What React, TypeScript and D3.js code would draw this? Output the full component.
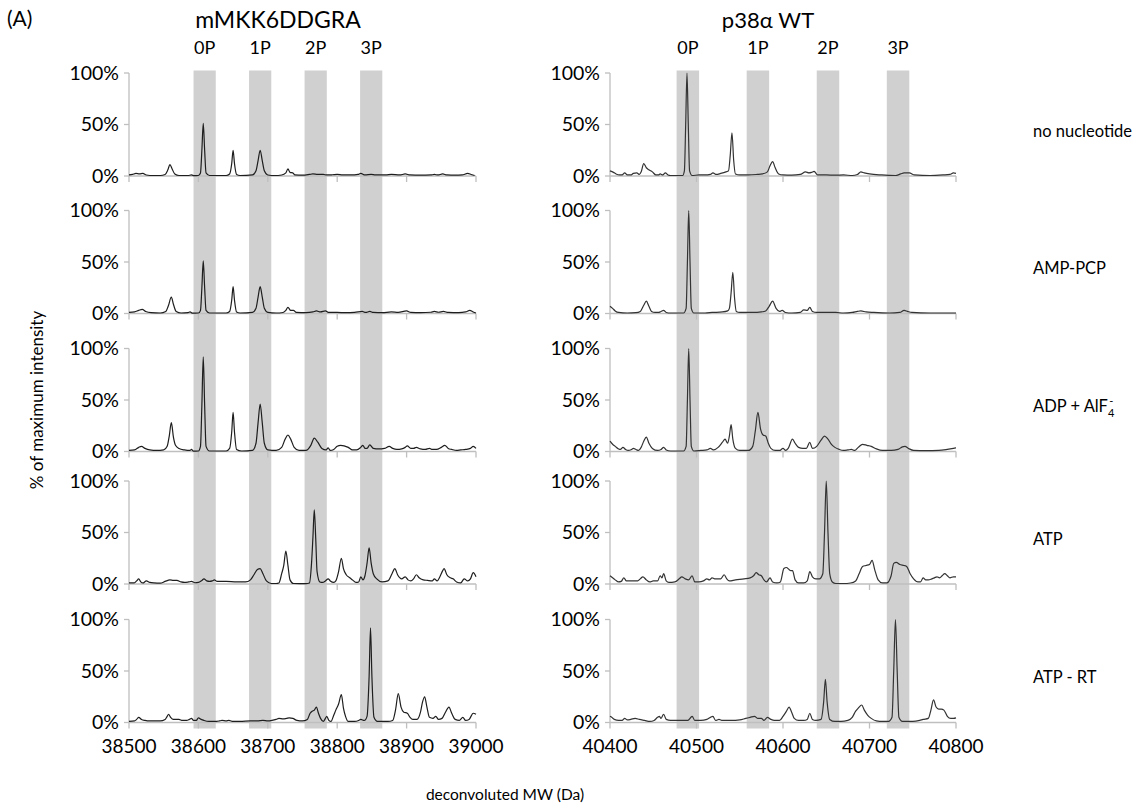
import React from "react";
import * as d3 from "d3";

type Pt = [number, number];

const rowLabels = ["no nucleotide", "AMP-PCP", "ADP + AlF", "ATP", "ATP - RT"];
const phosLabels = ["0P", "1P", "2P", "3P"];
const leftTicks = [38500, 38600, 38700, 38800, 38900, 39000];
const rightTicks = [40400, 40500, 40600, 40700, 40800];
const yTicks = [0, 50, 100];
const leftBands: Pt[] = [[38593, 38625], [38673, 38705], [38753, 38785], [38833, 38865]];
const rightBands: Pt[] = [[40477, 40503], [40558, 40584], [40639, 40665], [40720, 40746]];

const L1: Pt[] = [[38500,1],[38505,1.5],[38510,2.5],[38515,2],[38520,2.5],[38525,1],[38535,0.5],[38545,0.5],[38552,1.5],[38556,6],[38559,11],[38562,7],[38566,2],[38572,0.5],[38585,0.5],[38590,1],[38594,0.3],[38600,0.5],[38603,3],[38605,25],[38607,51],[38609,25],[38611,3],[38616,0.5],[38640,0.5],[38645,2],[38648,12],[38650,25],[38652,12],[38655,1.5],[38660,0.5],[38678,1],[38683,5],[38686,15],[38689,25],[38692,15],[38695,5],[38700,1],[38710,0.5],[38720,1],[38726,3],[38729,7],[38732,3.5],[38736,3],[38739,1],[38750,0.8],[38760,1.5],[38765,2],[38772,1.5],[38780,1.5],[38785,1],[38793,1.2],[38800,1.5],[38808,1],[38820,1],[38830,1.5],[38834,2.5],[38840,1],[38849,1.5],[38855,1],[38870,1],[38878,1.5],[38890,1],[38898,2],[38905,1],[38920,0.8],[38935,1],[38940,1.5],[38945,1],[38952,2],[38958,1],[38970,0.8],[38980,1],[38988,2.5],[38993,1.5],[38998,0.5]];
const L2: Pt[] = [[38500,1],[38508,1.5],[38514,3],[38519,4],[38524,2],[38532,0.8],[38545,0.5],[38553,2],[38557,8],[38561,16],[38564,9],[38568,2],[38575,0.5],[38585,0.8],[38588,1.5],[38591,0.3],[38600,0.5],[38603,3],[38605,25],[38607,51],[38609,25],[38611,3],[38616,0.5],[38640,0.5],[38645,2],[38648,13],[38650,26],[38652,13],[38655,1.5],[38660,0.5],[38678,1],[38683,5],[38686,16],[38689,26],[38692,16],[38695,5],[38700,1],[38712,0.5],[38722,1],[38726,3],[38729,6],[38733,3],[38737,3],[38741,1],[38755,0.8],[38765,1.5],[38770,2.5],[38776,1.5],[38783,2.5],[38788,1],[38800,1],[38812,0.8],[38825,1],[38836,2],[38841,1],[38847,2],[38852,1],[38865,0.8],[38878,1.5],[38888,1],[38900,2.5],[38906,1],[38920,0.8],[38935,1.2],[38940,2],[38946,1.2],[38953,2],[38960,1],[38975,0.8],[38985,1.5],[38991,3],[38996,1.5],[39000,0.5]];
const L3: Pt[] = [[38500,1],[38508,1.5],[38514,4],[38518,5],[38523,3],[38530,1.5],[38540,1],[38550,1.5],[38555,5],[38558,15],[38561,28],[38564,14],[38567,6],[38572,3],[38580,1.5],[38588,1],[38590,2],[38593,0.3],[38600,0.5],[38603,5],[38605,45],[38607,92],[38609,45],[38611,5],[38616,0.5],[38640,0.5],[38645,3],[38648,19],[38650,38],[38652,19],[38655,2],[38662,0.5],[38678,1],[38683,8],[38686,28],[38689,46],[38692,28],[38695,8],[38700,1.5],[38712,1],[38720,4],[38725,12],[38729,16],[38733,12],[38738,4],[38745,1],[38755,1],[38762,6],[38767,13],[38772,9],[38778,3],[38784,1.5],[38787,3.5],[38790,1],[38795,2],[38800,5],[38805,6],[38810,5.5],[38816,4],[38822,1.5],[38828,1.5],[38834,4],[38837,6],[38840,3],[38843,3],[38847,6.5],[38852,3],[38860,2.5],[38868,3],[38875,5],[38880,3],[38886,2],[38893,2.5],[38898,4],[38901,5.5],[38906,3],[38910,3],[38914,4],[38920,2.5],[38927,2],[38933,3],[38937,2],[38943,2],[38950,4],[38955,6],[38960,3],[38965,2],[38972,1],[38978,1.5],[38985,2],[38992,3],[38996,5],[39000,3]];
const L4: Pt[] = [[38500,1],[38507,1],[38511,3],[38514,5],[38517,2],[38520,1],[38525,3],[38530,1.5],[38536,1],[38545,0.8],[38552,2.5],[38559,4],[38564,3.5],[38569,3.5],[38575,2],[38580,1.5],[38586,2],[38590,2.5],[38595,1.2],[38600,1.5],[38605,3.5],[38608,5],[38612,3],[38616,2.5],[38620,3],[38623,4],[38627,2.5],[38640,2.5],[38655,2],[38668,2],[38675,4],[38680,9],[38685,14],[38689,15],[38693,10],[38698,3],[38705,0.5],[38712,0.5],[38716,1],[38720,10],[38723,18],[38726,32],[38729,18],[38732,4],[38737,0.5],[38755,0.3],[38760,1],[38763,20],[38765,45],[38767,72],[38769,45],[38771,12],[38775,2],[38779,1.5],[38783,3],[38787,5],[38790,3],[38795,1.5],[38798,3],[38802,12],[38806,25],[38809,15],[38813,9],[38818,6],[38822,4],[38827,1.5],[38831,2],[38834,7],[38837,4],[38840,8],[38843,20],[38846,35],[38849,20],[38852,10],[38857,5],[38865,2],[38873,3],[38879,10],[38883,15],[38887,9],[38893,5],[38898,7],[38902,4],[38906,3],[38910,5],[38914,9],[38918,6],[38924,4],[38930,3.5],[38937,3],[38940,5],[38944,3],[38948,7],[38952,13],[38954,15],[38958,9],[38963,6],[38967,5],[38972,2],[38978,1],[38983,5],[38988,3],[38992,5],[38996,11],[39000,7]];
const L5: Pt[] = [[38500,1],[38508,1.5],[38511,3],[38514,5],[38518,3],[38523,2],[38530,1.5],[38545,1.5],[38552,3],[38555,6],[38557,8],[38560,5],[38564,3],[38568,3],[38572,3],[38577,2],[38583,2],[38587,3],[38590,4],[38593,2],[38597,2],[38600,4.5],[38604,3],[38608,2],[38615,1],[38623,1],[38630,1.5],[38634,2],[38640,1.5],[38644,2],[38650,1],[38660,1],[38675,1.5],[38685,1.5],[38693,2],[38700,1.5],[38706,2],[38712,3],[38716,4],[38722,3.5],[38727,4],[38731,4.5],[38736,4],[38742,2],[38750,1.5],[38757,3],[38761,9],[38764,11],[38767,12],[38770,15],[38773,9],[38776,4],[38780,1],[38783,4],[38785,6],[38788,2],[38791,1],[38795,7],[38798,12],[38802,18],[38806,27],[38809,14],[38812,6],[38816,1],[38825,1],[38831,2],[38834,3],[38839,2],[38843,6],[38846,45],[38848,92],[38850,45],[38853,5],[38858,1],[38873,1],[38880,2],[38884,12],[38888,28],[38892,15],[38896,10],[38901,9],[38905,5],[38909,3],[38915,3],[38920,10],[38923,20],[38926,25],[38929,16],[38933,5],[38938,4],[38942,6],[38946,3],[38951,4],[38956,10],[38961,15],[38965,9],[38970,3],[38976,2],[38981,5],[38985,2],[38990,3],[38996,9],[39000,8]];

const R1: Pt[] = [[40400,5],[40404,3.5],[40407,2],[40411,1],[40414,1],[40417,3],[40420,1],[40424,1],[40427,2.5],[40431,3],[40434,1.5],[40436,4],[40439,12],[40442,8],[40445,6],[40449,4],[40453,1],[40456,1],[40458,2],[40461,1],[40464,3],[40467,1],[40470,0.5],[40484,0.5],[40486,5],[40487.5,50],[40489,100],[40490.5,50],[40492,5],[40495,0.5],[40503,1],[40510,1],[40516,1.5],[40519,3],[40523,1.5],[40528,2.5],[40534,4],[40537,5],[40539,20],[40541,42],[40543,15],[40545,2],[40550,1],[40560,1],[40570,1.5],[40576,2],[40582,4],[40585,10],[40588,14],[40591,8],[40595,2],[40600,1],[40610,0.8],[40620,1.5],[40626,4],[40630,3],[40633,3.5],[40636,4.5],[40640,1],[40650,1],[40660,0.8],[40670,1],[40680,0.5],[40686,1.5],[40690,4],[40694,3],[40700,2],[40714,1],[40730,0.5],[40736,2],[40740,3],[40746,3],[40752,1],[40770,0.5],[40785,1],[40793,1.5],[40797,3],[40800,2.5]];
const R2: Pt[] = [[40400,7],[40403,5],[40406,2.5],[40410,1],[40420,0.5],[40430,0.8],[40435,2],[40439,8],[40442,12],[40445,7],[40448,2],[40452,1],[40456,1],[40459,2],[40462,3],[40465,1],[40470,0.5],[40485,0.5],[40488,5],[40489.5,50],[40491,100],[40492.5,50],[40494,5],[40497,0.5],[40510,0.5],[40518,1],[40530,1.5],[40536,2.5],[40538,5],[40540,20],[40542,40],[40544,15],[40546,2],[40550,1],[40565,1],[40575,1.5],[40580,2.5],[40584,7],[40588,12],[40592,5],[40596,2],[40599,3],[40603,1],[40610,0.5],[40620,1],[40624,3.5],[40628,3],[40631,6],[40634,2],[40639,1],[40650,1],[40661,1],[40670,0.5],[40680,1],[40686,2],[40690,2.5],[40696,1.5],[40705,1],[40723,0.5],[40735,1],[40740,3],[40744,2],[40749,1],[40770,0.5],[40797,0.5],[40800,0.5]];
const R3: Pt[] = [[40400,10],[40403,7],[40406,5],[40410,2.5],[40412,2],[40415,4],[40418,2],[40421,1],[40425,2],[40427,3],[40430,2],[40433,1],[40436,4],[40439,10],[40442,14],[40445,8],[40449,3],[40455,1],[40459,2],[40462,4],[40465,1.5],[40470,0.5],[40485,0.5],[40488,5],[40489.5,50],[40491,100],[40492.5,50],[40494,5],[40497,0.5],[40505,1],[40512,1.5],[40516,3],[40520,1.5],[40525,4],[40530,9],[40533,12],[40536,8],[40538,15],[40540,26],[40542,12],[40545,3],[40550,1],[40560,1],[40565,5],[40568,20],[40571,38],[40574,22],[40577,16],[40580,15],[40583,8],[40586,3],[40591,1],[40596,1],[40600,3],[40603,1],[40606,3],[40611,12],[40614,8],[40618,4],[40623,3],[40627,3],[40631,9],[40634,3],[40639,5],[40644,11],[40648,15],[40652,12],[40656,7],[40660,4],[40665,2],[40670,1],[40675,1.5],[40679,2],[40683,1],[40687,4],[40692,7],[40697,6],[40702,5],[40708,2.5],[40715,1],[40725,1],[40733,2],[40738,4.5],[40741,5],[40745,3],[40751,1],[40765,0.8],[40780,1],[40790,2],[40797,3],[40800,3.5]];
const R4: Pt[] = [[40400,8],[40403,6],[40406,4],[40410,2],[40413,2.5],[40416,6],[40419,3],[40423,3],[40428,3],[40432,3],[40435,5],[40438,7],[40442,4],[40446,2],[40450,3],[40455,3],[40458,8],[40460,6],[40462,10],[40465,3],[40468,1.5],[40475,2],[40480,5],[40483,7],[40487,5],[40491,4],[40495,8],[40498,2],[40503,2],[40508,3],[40512,5],[40515,4],[40518,6],[40521,5],[40524,5],[40528,5],[40532,9],[40535,5],[40538,3],[40545,4],[40555,5],[40562,6],[40566,8],[40569,11],[40572,9],[40575,8],[40578,4],[40581,2],[40585,6],[40588,2],[40593,1],[40597,2],[40601,15],[40604,16],[40607,14],[40609,13],[40611,13],[40614,4],[40618,1],[40624,1],[40628,3],[40631,12],[40634,7],[40638,5],[40642,5],[40646,10],[40648,50],[40650,100],[40652,50],[40654,10],[40657,2],[40661,0.5],[40670,0.5],[40678,1],[40684,3],[40688,10],[40692,17],[40696,18],[40700,19],[40703,23],[40706,14],[40710,4],[40715,1],[40720,1],[40725,8],[40728,20],[40731,21],[40735,19],[40740,18],[40743,17],[40747,10],[40751,5],[40756,2],[40759,2],[40762,6],[40765,4],[40768,4],[40772,5],[40775,6],[40778,7],[40781,6],[40784,8],[40787,10],[40790,8],[40793,6],[40797,7],[40800,7]];
const R5: Pt[] = [[40400,6],[40402,5],[40405,3],[40410,2],[40414,2],[40417,4],[40420,2.5],[40424,3],[40429,4],[40434,3],[40440,2],[40446,1],[40451,2],[40455,5],[40457,6],[40459,4],[40462,8],[40465,3],[40470,2],[40480,2],[40490,2],[40495,6],[40498,2],[40505,2],[40512,3],[40516,5],[40519,6],[40522,2],[40526,3],[40530,2],[40540,2],[40550,2.5],[40557,4],[40562,5],[40567,6],[40571,4],[40575,4],[40578,2],[40582,5],[40586,3],[40590,2],[40596,2],[40600,6],[40604,11],[40607,15],[40610,10],[40613,4],[40618,2],[40624,2],[40628,3],[40631,9],[40634,3],[40638,2],[40644,3],[40647,20],[40649,42],[40651,20],[40654,3],[40660,1],[40667,1],[40675,2],[40680,5],[40684,11],[40687,14],[40691,17],[40694,12],[40698,7],[40702,4],[40708,1.5],[40715,1],[40722,1],[40726,5],[40728,50],[40730,100],[40732,50],[40734,5],[40738,1],[40750,1],[40758,2],[40762,3],[40768,4],[40771,12],[40774,22],[40777,15],[40780,13],[40783,13],[40786,12],[40790,6],[40794,4],[40797,4],[40800,4.5]];

const leftSeries = [L1, L2, L3, L4, L5];
const rightSeries = [R1, R2, R3, R4, R5];

const W = 1134;
const H = 807;
const FONT = "Lato, 'Open Sans', sans-serif";
const baselines = [176, 313.5, 451.5, 584, 722.5];
const plotH = 103;
const bandTop = 70.5;
const bandBottom = 728.5;

const xLeft = d3.scaleLinear().domain([38500, 39000]).range([129, 476]);
const xRight = d3.scaleLinear().domain([40400, 40800]).range([610, 956]);

function Panel({ x, series, base, stroke }: { x: d3.ScaleLinear<number, number>; series: Pt[]; base: number; stroke: string }) {
  const y = d3.scaleLinear().domain([0, 100]).range([base, base - plotH]);
  const line = d3
    .line<Pt>()
    .x((d) => x(d[0]))
    .y((d) => y(d[1]))
    .curve(d3.curveMonotoneX);
  const [x0, x1] = x.range();
  const ticks = x.domain()[0] === 38500 ? leftTicks : rightTicks;
  return (
    <g>
      <line x1={x0} x2={x0} y1={y(100)} y2={base} stroke="#bfbfbf" strokeWidth={1.3} />
      {yTicks.map((t) => (
        <g key={t}>
          <line x1={x0 - 5} x2={x0} y1={y(t)} y2={y(t)} stroke="#bfbfbf" strokeWidth={1.3} />
          <text x={x0 - 10} y={y(t)} dy="0.35em" textAnchor="end" fontSize={19.5} fill="#000" fontFamily={FONT}>
            {t}%
          </text>
        </g>
      ))}
      <line x1={x0} x2={x1} y1={base} y2={base} stroke="#bfbfbf" strokeWidth={1.3} />
      {ticks.map((t) => (
        <line key={t} x1={x(t)} x2={x(t)} y1={base} y2={base + 6} stroke="#bfbfbf" strokeWidth={1.3} />
      ))}
      <path d={line(series) || ""} fill="none" stroke={stroke} strokeWidth={1.2} strokeLinejoin="round" />
    </g>
  );
}

export default function App() {
  const lastBase = baselines[baselines.length - 1];
  return (
    <svg width={W} height={H} style={{ position: "absolute", left: 0, top: 0, background: "#fff" }} fontFamily={FONT}>
      <rect x={0} y={0} width={W} height={H} fill="#fff" />
      {leftBands.map((b, i) => (
        <rect key={"lb" + i} x={xLeft(b[0])} width={xLeft(b[1]) - xLeft(b[0])} y={bandTop} height={bandBottom - bandTop} fill="#d0d0d0" />
      ))}
      {rightBands.map((b, i) => (
        <rect key={"rb" + i} x={xRight(b[0])} width={xRight(b[1]) - xRight(b[0])} y={bandTop} height={bandBottom - bandTop} fill="#d0d0d0" />
      ))}
      {leftBands.map((b, i) => (
        <text key={"lp" + i} x={xLeft((b[0] + b[1]) / 2)} y={54} textAnchor="middle" fontSize={18}>
          {phosLabels[i]}
        </text>
      ))}
      {rightBands.map((b, i) => (
        <text key={"rp" + i} x={xRight((b[0] + b[1]) / 2)} y={54} textAnchor="middle" fontSize={18}>
          {phosLabels[i]}
        </text>
      ))}
      <text x={7} y={26} fontSize={21}>(A)</text>
      <text x={278} y={28} textAnchor="middle" fontSize={23}>mMKK6DDGRA</text>
      <text x={768} y={28} textAnchor="middle" fontSize={22}>p38α WT</text>

      {baselines.map((b, i) => (
        <g key={"row" + i}>
          <Panel x={xLeft} series={leftSeries[i]} base={b} stroke="#1e1e1e" />
          <Panel x={xRight} series={rightSeries[i]} base={b} stroke="#333" />
          <text x={1033} y={b - 45} dy="0.35em" fontSize={16.5}>
            {rowLabels[i]}
            {i === 2 && (
              <>
                <tspan fontSize={11} dy={5}>4</tspan>
                <tspan fontSize={11} dx={-5} dy={-12}>-</tspan>
              </>
            )}
          </text>
        </g>
      ))}

      {leftTicks.map((t) => (
        <text key={"lt" + t} x={xLeft(t)} y={lastBase + 30.5} textAnchor="middle" fontSize={19}>
          {t}
        </text>
      ))}
      {rightTicks.map((t) => (
        <text key={"rt" + t} x={xRight(t)} y={lastBase + 30.5} textAnchor="middle" fontSize={19}>
          {t}
        </text>
      ))}
      <text x={505} y={800} textAnchor="middle" fontSize={15.5}>deconvoluted MW (Da)</text>
      <text transform="translate(43,400) rotate(-90)" textAnchor="middle" fontSize={17}>% of maximum intensity</text>
    </svg>
  );
}
